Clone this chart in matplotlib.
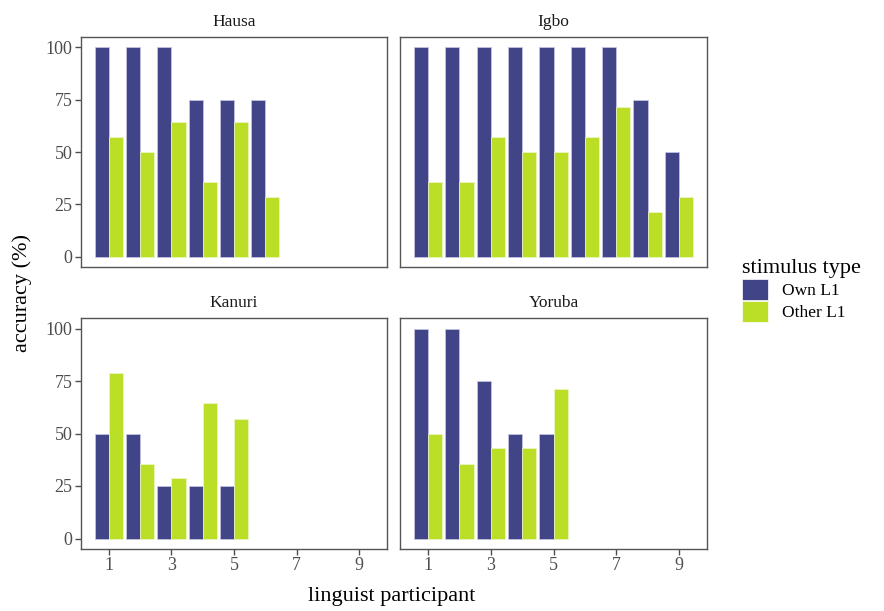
import numpy as np
import matplotlib.pyplot as plt
from matplotlib.patches import Patch

plt.rcParams['font.family'] = ['Liberation Serif', 'DejaVu Serif']

# accuracy (%) per linguist participant, per L1 group
groups = ['Hausa', 'Igbo', 'Kanuri', 'Yoruba']
own_l1 = {
    'Hausa': [100, 100, 100, 75, 75, 75],
    'Igbo': [100, 100, 100, 100, 100, 100, 100, 75, 50],
    'Kanuri': [50, 50, 25, 25, 25],
    'Yoruba': [100, 100, 75, 50, 50],
}
other_l1 = {
    'Hausa': [57.1, 50.0, 64.3, 35.7, 64.3, 28.6],
    'Igbo': [35.7, 35.7, 57.1, 50.0, 50.0, 57.1, 71.4, 21.4, 28.6],
    'Kanuri': [78.6, 35.7, 28.6, 64.3, 57.1],
    'Yoruba': [50.0, 35.7, 42.9, 42.9, 71.4],
}
series_labels = ['Own L1', 'Other L1']
colors = ['#414487', '#BBDF27']
yticks = [0, 25, 50, 75, 100]
xticks = [1, 3, 5, 7, 9]

W, H = 884, 611
fig = plt.figure(figsize=(W / 100, H / 100), dpi=100)

# panel boxes in pixels: left, top, right, bottom
boxes = [(81, 37, 387, 267), (400, 37, 707, 267),
         (81, 318, 387, 549), (400, 318, 707, 549)]

grey = '#4D4D4D'
bw = 0.45
for i, g in enumerate(groups):
    l, t, r, b = boxes[i]
    ax = fig.add_axes([l / W, 1 - b / H, (r - l) / W, (b - t) / H])
    n = len(own_l1[g])
    x = np.arange(1, n + 1)
    ax.bar(x - bw / 2, own_l1[g], width=bw, color=colors[0],
           edgecolor='#C8C8E6', linewidth=0.5)
    ax.bar(x + bw / 2, other_l1[g], width=bw, color=colors[1],
           edgecolor='#EEF7C8', linewidth=0.5)
    ax.set_xlim(0.105, 9.895)
    ax.set_ylim(-5, 105)
    ax.set_xticks(xticks)
    ax.set_yticks(yticks)
    ax.tick_params(colors=grey, labelsize=13, length=4, width=1,
                   direction='out', pad=2)
    for s in ax.spines.values():
        s.set_color('#555555')
        s.set_linewidth(1)
    if i in (1, 3):
        ax.set_yticklabels([])
        ax.tick_params(axis='y', length=0)
    if i in (0, 1):
        ax.set_xticklabels([])
        ax.tick_params(axis='x', length=0)
    ax.text(0.5, 1.03, g, transform=ax.transAxes, ha='center', va='bottom',
            fontsize=12.5, color='#1A1A1A')

fig.text(392 / W, 1 - 596 / H, 'linguist participant', ha='center',
         va='center', fontsize=16)
fig.text(22 / W, 1 - 293 / H, 'accuracy (%)', ha='center', va='center',
         rotation=90, fontsize=16)

handles = [Patch(facecolor=c, edgecolor='white', linewidth=0.5) for c in colors]
leg = fig.legend(handles, series_labels, title='stimulus type',
                 loc='upper left', bbox_to_anchor=(735 / W, 1 - 252 / H),
                 frameon=False, fontsize=12.5, title_fontsize=16,
                 handlelength=1.5, handleheight=1.5, handletextpad=0.8,
                 labelspacing=0.05, borderaxespad=0)
leg._legend_box.align = 'left'

fig.savefig('out.png', dpi=100)
